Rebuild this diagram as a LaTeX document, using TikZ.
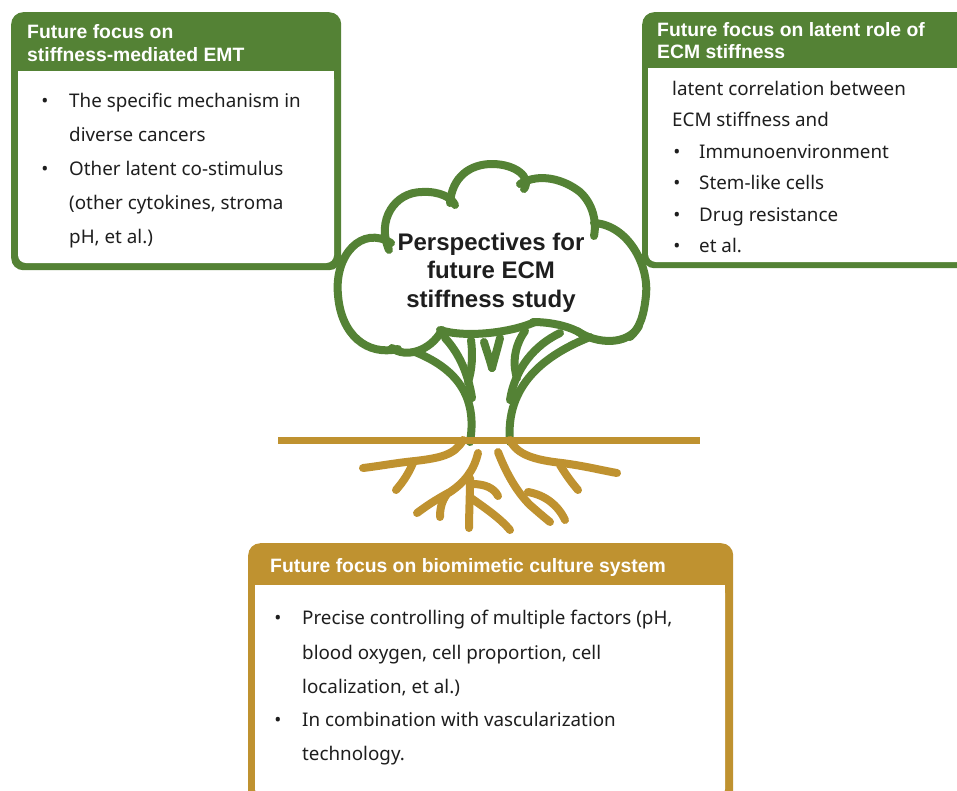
\documentclass[tikz,border=0pt]{standalone}
\usepackage{fontspec}
\setmainfont{Noto Sans}
\newfontfamily\hfont{Liberation Sans}
\definecolor{tgreen}{HTML}{548235}
\definecolor{tgold}{HTML}{BF9230}
\definecolor{txt}{HTML}{1E1E1E}
\begin{document}
\begin{tikzpicture}[x=1pt,y=1pt,
  hdr/.style={font=\hfont\bfseries\fontsize{19.35}{22}\selectfont, text=white, anchor=base west, inner sep=0pt},
  body/.style={font=\fontsize{18.8}{22}\selectfont, text=txt, anchor=base west, inner sep=0pt},
  bul/.style={font=\fontsize{18.8}{22}\selectfont, text=txt, anchor=base, inner sep=0pt},
  ctr/.style={font=\hfont\bfseries\fontsize{24}{28}\selectfont, text=txt, anchor=base, inner sep=0pt},
  crown/.style={draw=tgreen, line width=8pt, line cap=round},
  rootline/.style={draw=tgold, line width=8pt, line cap=round},
  outerbox/.style={rounded corners=12pt, inner sep=0pt, anchor=north west}]
\useasboundingbox (0,0) rectangle (957,-790);

% ---------- left box ----------
\node[outerbox, fill=tgreen, minimum width=330pt, minimum height=258pt] (lbox) at (11,-12) {};
\fill[white, rounded corners=8pt] (18,-71) rectangle (334,-263);
\fill[white] (18,-71) rectangle (334,-100);
\node[hdr] (lh1) at (27,-38.5) {Future focus on};
\node[hdr] (lh2) at (27,-61.5) {stiffness-mediated EMT};
\node[bul] (lb1) at (45,-107.5) {\textbullet};
\node[body] (lt1) at (69,-107.5) {The specific mechanism in};
\node[body] (lt2) at (69,-141) {diverse cancers};
\node[bul] (lb2) at (45,-175.5) {\textbullet};
\node[body] (lt3) at (69,-175.5) {Other latent co-stimulus};
\node[body] (lt4) at (69,-209.5) {(other cytokines, stroma};
\node[body] (lt5) at (69,-243.5) {pH, et al.)};

% ---------- right box ----------
\node[outerbox, fill=tgreen, minimum width=340pt, minimum height=256pt] (rbox) at (642,-12) {};
\fill[white, rounded corners=8pt] (648,-68) rectangle (975,-262);
\fill[white] (648,-68) rectangle (975,-100);
\node[hdr] (rh1) at (657,-36.5) {Future focus on latent role of};
\node[hdr] (rh2) at (657,-58.5) {ECM stiffness};
\node[body] (rt1) at (672,-95) {latent correlation between};
\node[body] (rt2) at (672,-126) {ECM stiffness and};
\node[bul] (rb1) at (677,-158) {\textbullet};
\node[body] (rt3) at (699,-158) {Immunoenvironment};
\node[bul] (rb2) at (677,-189) {\textbullet};
\node[body] (rt4) at (699,-189) {Stem-like cells};
\node[bul] (rb3) at (677,-221) {\textbullet};
\node[body] (rt5) at (699,-221) {Drug resistance};
\node[bul] (rb4) at (677,-252) {\textbullet};
\node[body] (rt6) at (699,-252) {et al.};

% ---------- bottom box ----------
\node[outerbox, fill=tgold, minimum width=485pt, minimum height=262pt] (bbox) at (248,-543) {};
\fill[white, rounded corners=8pt] (255,-585) rectangle (725,-797);
\fill[white] (255,-585) rectangle (725,-610);
\node[hdr] (bh1) at (270,-572) {Future focus on biomimetic culture system};
\node[bul] (bb1) at (278,-624.5) {\textbullet};
\node[body] (bt1) at (302,-624.5) {Precise controlling of multiple factors (pH,};
\node[body] (bt2) at (302,-659.5) {blood oxygen, cell proportion, cell};
\node[body] (bt3) at (302,-693.5) {localization, et al.)};
\node[bul] (bb2) at (278,-726.5) {\textbullet};
\node[body] (bt4) at (302,-726.5) {In combination with vascularization};
\node[body] (bt5) at (302,-760.5) {technology.};

% ---------- crown ----------
\draw[crown] (391,-243) .. controls (362,-225) and (334,-255) .. (338,-295) .. controls (341,-335) and (367,-356) .. (398,-349);
\draw[crown] (389,-250) .. controls (376,-220) and (395,-192) .. (422,-192) .. controls (440,-191) and (452,-198) .. (455,-205);
\draw[crown] (450,-203) .. controls (452,-177) and (470,-164) .. (492,-164) .. controls (515,-164) and (532,-177) .. (524,-189);
\draw[crown] (520,-184) .. controls (540,-172) and (565,-180) .. (580,-192) .. controls (592,-203) and (597,-220) .. (594,-236);
\draw[crown] (594,-223) .. controls (628,-225) and (649,-265) .. (646,-295) .. controls (644,-315) and (640,-328) .. (630,-337);
\draw[crown] (639,-326) .. controls (628,-345) and (598,-345) .. (577,-331);
\draw[crown] (533,-322) .. controls (550,-322) and (570,-326) .. (582,-334);
\draw[crown] (440,-330) .. controls (465,-338) and (510,-333) .. (535,-322);
\draw[crown] (392,-348) .. controls (405,-358) and (430,-352) .. (442,-330);

\node[ctr] (c1) at (491,-250) {Perspectives for};
\node[ctr] (c2) at (491,-278.5) {future ECM};
\node[ctr] (c3) at (491,-307) {stiffness study};

% ---------- trunk and branches ----------
\draw[crown] (415,-352) .. controls (455,-368) and (478,-395) .. (470,-442);
\draw[crown] (590,-337) .. controls (545,-355) and (505,-385) .. (510,-442);
\draw[crown] (445,-338) .. controls (458,-352) and (468,-372) .. (472,-398);
\draw[crown] (471,-340) .. controls (473,-355) and (472,-370) .. (468,-382);
\draw[crown] (484,-342) .. controls (487,-352) and (490,-360) .. (492,-368);
\draw[crown] (500,-338) .. controls (497,-350) and (494,-360) .. (492,-368);
\draw[crown] (525,-331) .. controls (515,-345) and (512,-362) .. (517,-378);
\draw[crown] (560,-333) .. controls (535,-345) and (515,-368) .. (510,-400);

% ---------- roots ----------
\draw[rootline] (463,-440) .. controls (455,-455) and (440,-458) .. (415,-461) .. controls (395,-463) and (380,-466) .. (363,-468);
\draw[rootline] (413,-463) .. controls (408,-475) and (402,-483) .. (396,-490);
\draw[rootline] (510,-440) .. controls (517,-455) and (535,-460) .. (562,-463) .. controls (585,-466) and (600,-470) .. (617,-473);
\draw[rootline] (560,-465) .. controls (566,-475) and (572,-483) .. (578,-490);
\draw[rootline] (478,-453) .. controls (474,-470) and (465,-482) .. (450,-492) .. controls (435,-500) and (425,-507) .. (417,-513);
\draw[rootline] (447,-494) .. controls (441,-502) and (440,-510) .. (440,-517);
\draw[rootline] (470,-478) .. controls (470,-495) and (469,-515) .. (469,-528);
\draw[rootline] (472,-484) .. controls (485,-484) and (494,-488) .. (498,-496);
\draw[rootline] (471,-498) .. controls (485,-508) and (500,-518) .. (510,-530);
\draw[rootline] (498,-452) .. controls (505,-470) and (515,-490) .. (530,-505) .. controls (538,-512) and (545,-518) .. (550,-522);
\draw[rootline] (528,-492) .. controls (545,-495) and (558,-505) .. (565,-520);

% ---------- ground ----------
\draw[draw=tgold, line width=7pt] (278,-440) coordinate (g1) -- (700,-440) coordinate (g2);
\end{tikzpicture}
\end{document}
